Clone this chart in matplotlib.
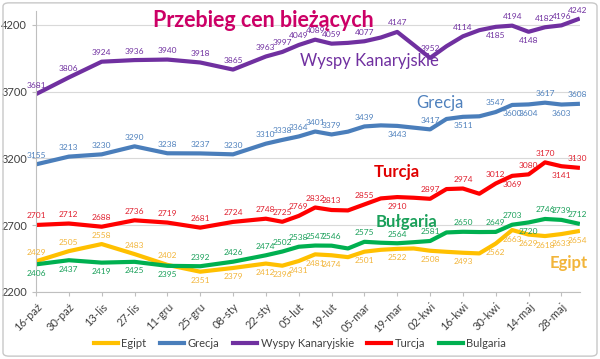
import numpy as np
import matplotlib
matplotlib.use('Agg')
import matplotlib.pyplot as plt
from matplotlib.patches import FancyBboxPatch

plt.rcParams['font.family'] = ['Lato', 'DejaVu Sans']

# days counted from 16-paź
days = [0, 14, 28, 42, 56, 70, 84, 98, 105, 112, 119, 126, 133, 140, 147,
        154, 161, 168, 175, 182, 189, 196, 203, 210, 217, 224, 231]
# points drawn without a value label
unlabeled = [12, 14, 16, 18, 20]

tick_days = list(range(0, 225, 14))
tick_labels = ['16-paź', '30-paź', '13-lis', '27-lis', '11-gru', '25-gru', '08-sty',
               '22-sty', '05-lut', '19-lut', '05-mar', '19-mar', '02-kwi', '16-kwi',
               '30-kwi', '14-maj', '28-maj']

egipt = [2429, 2505, 2558, 2483, 2402, 2351, 2379, 2412, 2396, 2431, 2481, 2474, 2460,
         2501, 2515, 2522, 2525, 2508, 2500, 2493, 2488, 2562, 2663, 2629, 2618, 2633, 2654]
grecja = [3155, 3213, 3230, 3290, 3238, 3237, 3230, 3310, 3338, 3364, 3401, 3379, 3400,
          3439, 3447, 3443, 3430, 3417, 3495, 3511, 3515, 3547, 3600, 3604, 3617, 3603, 3608]
wyspy = [3681, 3806, 3924, 3936, 3940, 3918, 3865, 3963, 3997, 4049, 4089, 4059, 4065,
         4077, 4105, 4147, 4050, 3952, 4040, 4114, 4160, 4185, 4194, 4148, 4182, 4196, 4242]
turcja = [2701, 2712, 2688, 2736, 2719, 2681, 2724, 2748, 2725, 2769, 2832, 2813, 2810,
          2855, 2900, 2910, 2905, 2897, 2970, 2974, 2935, 3012, 3069, 3080, 3170, 3141, 3130]
bulgaria = [2406, 2437, 2419, 2425, 2395, 2392, 2426, 2474, 2502, 2538, 2547, 2546, 2525,
            2575, 2568, 2564, 2572, 2581, 2645, 2650, 2648, 2649, 2703, 2720, 2746, 2739, 2712]

# label side for each labelled point: a = above, b = below
egipt_side = 'aaaaa' + 'b' * 17
grecja_side = 'aaaaaaaaaaaaa' + 'bababbaba'
wyspy_side = 'aaaaaaaaaaaaaaaa' + 'babaaa'
turcja_side = 'aaaaaaaaaaaaa' + 'baaabaaba'
bulgaria_side = 'bbbbb' + 'a' * 13 + 'baaa'

series = [
    ('Egipt', egipt, egipt_side, '#FFC000', '#F2B53A'),
    ('Grecja', grecja, grecja_side, '#4A7EBB', '#4F81BD'),
    ('Wyspy Kanaryjskie', wyspy, wyspy_side, '#7030A0', '#7030A0'),
    ('Turcja', turcja, turcja_side, '#FF0000', '#E0202F'),
    ('Bulgaria', bulgaria, bulgaria_side, '#00B050', '#1AA05A'),
]

fig = plt.figure(figsize=(6.0, 3.59), dpi=100)
ax = fig.add_axes([0.06, 0.187, 0.907, 0.781])

for name, vals, side, col, lcol in series:
    ax.plot(days, vals, color=col, lw=3, label=name, solid_joinstyle='round')
    k = 0
    for i, (d, v) in enumerate(zip(days, vals)):
        if i in unlabeled:
            continue
        off = 6.5 if side[k] == 'a' else -6.5
        ax.annotate(str(v), (d, v), xytext=(0, off), textcoords='offset points',
                    ha='center', va='center', fontsize=6, color=lcol)
        k += 1

ax.set_xlim(0, 232)
ax.set_ylim(2200, 4300)
ax.set_yticks([2200, 2700, 3200, 3700, 4200])
ax.set_xticks(tick_days)
ax.set_xticklabels(tick_labels, rotation=45, ha='right', rotation_mode='anchor')
ax.tick_params(axis='both', labelsize=8, colors='#404040', length=3, color='#BFBFBF')
ax.grid(axis='y', color='#D9D9D9', lw=0.8)
ax.set_axisbelow(True)
for s in ['top', 'right']:
    ax.spines[s].set_visible(False)
for s in ['left', 'bottom']:
    ax.spines[s].set_color('#BFBFBF')

ax.text(97, 4230, 'Przebieg cen bieżących', fontsize=15.5, color='#CC0066',
        ha='center', va='center', fontweight='bold')
ax.text(142, 3930, 'Wyspy Kanaryjskie', fontsize=12, color='#7030A0', ha='center', va='center')
ax.text(172, 3616, 'Grecja', fontsize=12, color='#4F81BD', ha='center', va='center')
ax.text(154, 3099, 'Turcja', fontsize=12, color='#E00000', ha='center', va='center', fontweight='bold')
ax.text(158, 2724, 'Bułgaria', fontsize=12, color='#1AA05A', ha='center', va='center', fontweight='bold')
ax.text(227, 2417, 'Egipt', fontsize=12, color='#F2B53A', ha='center', va='center', fontweight='bold')

fig.legend(loc='lower center', bbox_to_anchor=(0.5, 0.0), ncol=5, frameon=False,
           fontsize=8, handlelength=2.2, columnspacing=1.2, handletextpad=0.3,
           labelcolor='#404040')

fig.patches.append(FancyBboxPatch((0.005, 0.008), 0.99, 0.984, boxstyle='round,pad=0,rounding_size=0.01',
                                  transform=fig.transFigure, fill=False, ec='#C8C8C8', lw=1))

fig.savefig('out.png', dpi=100)
